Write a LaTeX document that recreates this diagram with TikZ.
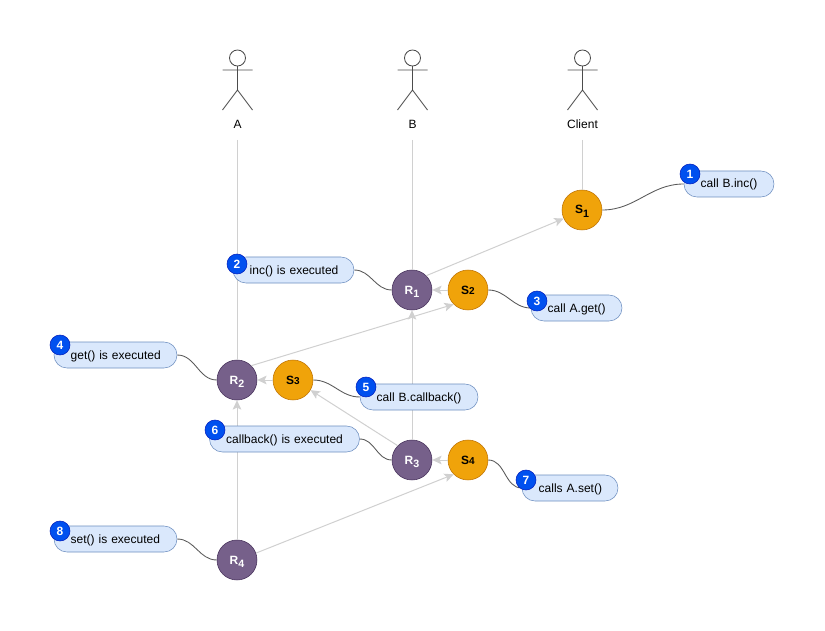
\documentclass[tikz,border=0pt]{standalone}
\usepackage{fontspec}
\setmainfont{Liberation Sans}
\usepackage{xcolor}
\usetikzlibrary{positioning,arrows.meta}
\definecolor{pillfill}{HTML}{DAE8FC}
\definecolor{pilldraw}{HTML}{6C8EBF}
\definecolor{badgefill}{HTML}{0050EF}
\definecolor{badgedraw}{HTML}{001DBC}
\definecolor{recvfill}{HTML}{76608A}
\definecolor{recvdraw}{HTML}{432D57}
\definecolor{sendfill}{HTML}{F0A30A}
\definecolor{senddraw}{HTML}{BD7000}
\definecolor{flowgray}{HTML}{D0D0D0}
\newcommand{\lowidx}[1]{\raisebox{-0.5ex}{\fontsize{8}{8}\selectfont #1}}
\newcommand{\smallidx}[1]{{\fontsize{7.5}{8}\selectfont #1}}

\begin{document}
\begin{tikzpicture}[x=0.75pt, y=-0.75pt, font=\fontsize{9}{11}\selectfont,
    recv/.style={circle, draw=recvdraw, fill=recvfill, text=white, minimum size=30pt, inner sep=0pt, text height=7pt, text depth=1pt, font=\fontsize{9}{11}\selectfont\bfseries},
    send/.style={circle, draw=senddraw, fill=sendfill, minimum size=30pt, inner sep=0pt, text height=7pt, text depth=1pt, font=\fontsize{9}{11}\selectfont\bfseries},
    pill/.style={rectangle, draw=pilldraw, fill=pillfill, rounded corners=9.7pt, minimum height=19.5pt, inner xsep=1pt, inner ysep=0pt, text width=#1, text height=7.5pt, text depth=1.5pt, align=left, execute at begin node={\hspace*{11.5pt}}},
    badge/.style={circle, draw=badgedraw, fill=badgefill, text=white, minimum size=15pt, inner sep=0pt, font=\fontsize{9}{11}\selectfont\bfseries},
    line/.style={draw=flowgray, line width=0.75pt},
    flow/.style={line, -{Stealth[length=7pt, width=6.5pt, inset=1.5pt]}},
    curve/.style={draw=black!65, line width=0.65pt},
    actor/.pic={
        \draw [black!70, line width=0.65pt] (0,58) circle (8)
            (0,66) -- (0,90) (-15,70) -- (15,70) (-15,110) -- (0,90) -- (15,110);
    }]
    \useasboundingbox (0,0) rectangle (825,631);

    % Actors
    \pic at (237.5,0) {actor};
    \pic at (412.5,0) {actor};
    \pic at (582.5,0) {actor};
    \node (labela) at (237.5,124) {A};
    \node (labelb) at (412.5,124) {B};
    \node (labelclient) at (582.5,124) {Client};
    \coordinate (lifea) at (237,140);
    \coordinate (lifeb) at (412,140);
    \coordinate (lifeclient) at (582,140);

    % States
    \node [send] (s1) at (582,210) {S\lowidx{1}};
    \node [recv] (r1) at (412,290) {R\lowidx{1}};
    \node [send] (s2) at (468,290) {S\smallidx{2}};
    \node [recv] (r2) at (237,380) {R\lowidx{2}};
    \node [send] (s3) at (293,380) {S\smallidx{3}};
    \node [recv] (r3) at (412,460) {R\lowidx{3}};
    \node [send] (s4) at (468,460) {S\smallidx{4}};
    \node [recv] (r4) at (237,560) {R\lowidx{4}};

    % Flow
    \path [line] (lifea) -- (r2);
    \path [line] (lifeb) -- (r1);
    \path [line] (lifeclient) -- (s1);
    \path [flow] (r4) -- (r2);
    \path [flow] (r3) -- (r1);
    \path [flow] (r1.north east) -- (s1.205);
    \path [flow] (s2) -- (r1);
    \path [flow] (r2.north east) -- (s2.south west);
    \path [flow] (s3) -- (r2);
    \path [flow] (r3.north west) -- (s3.-30);
    \path [flow] (s4) -- (r3);
    \path [flow] (r4.20) -- (s4.south west);

    % Notes
    \node [pill=65.5pt] (callinc) at (729,184) {call B.inc()};
    \node [pill=88.75pt] (incdone) at (293.5,270) {inc() is executed};
    \node [pill=66.25pt] (callget) at (576.5,308) {call A.get()};
    \node [pill=90.25pt] (getdone) at (115.5,355) {get() is executed};
    \node [pill=86.5pt] (callback) at (419,397) {call B.callback()};
    \node [pill=110.5pt] (backdone) at (284.5,439) {callback() is executed};
    \node [pill=70pt] (callset) at (570,488) {calls A.set()};
    \node [pill=90.25pt] (setdone) at (115.5,539) {set() is executed};

    % Curves
    \path [curve] (s1) to [out=0, in=180] (callinc);
    \path [curve] (incdone) to [out=0, in=180] (r1);
    \path [curve] (s2) to [out=0, in=180] (callget);
    \path [curve] (getdone) to [out=0, in=180] (r2);
    \path [curve] (s3) to [out=0, in=180] (callback);
    \path [curve] (backdone) to [out=0, in=180] (r3);
    \path [curve] (s4) to [out=0, in=180] (callset);
    \path [curve] (setdone) to [out=0, in=180] (r4);

    % Badges
    \node [badge] (badge1) at (690,174) {1};
    \node [badge] (badge2) at (237,264) {2};
    \node [badge] (badge3) at (537,301) {3};
    \node [badge] (badge4) at (60,345) {4};
    \node [badge] (badge5) at (366,387) {5};
    \node [badge] (badge6) at (215,430) {6};
    \node [badge] (badge7) at (526,480) {7};
    \node [badge] (badge8) at (60,531) {8};
\end{tikzpicture}
\end{document}
